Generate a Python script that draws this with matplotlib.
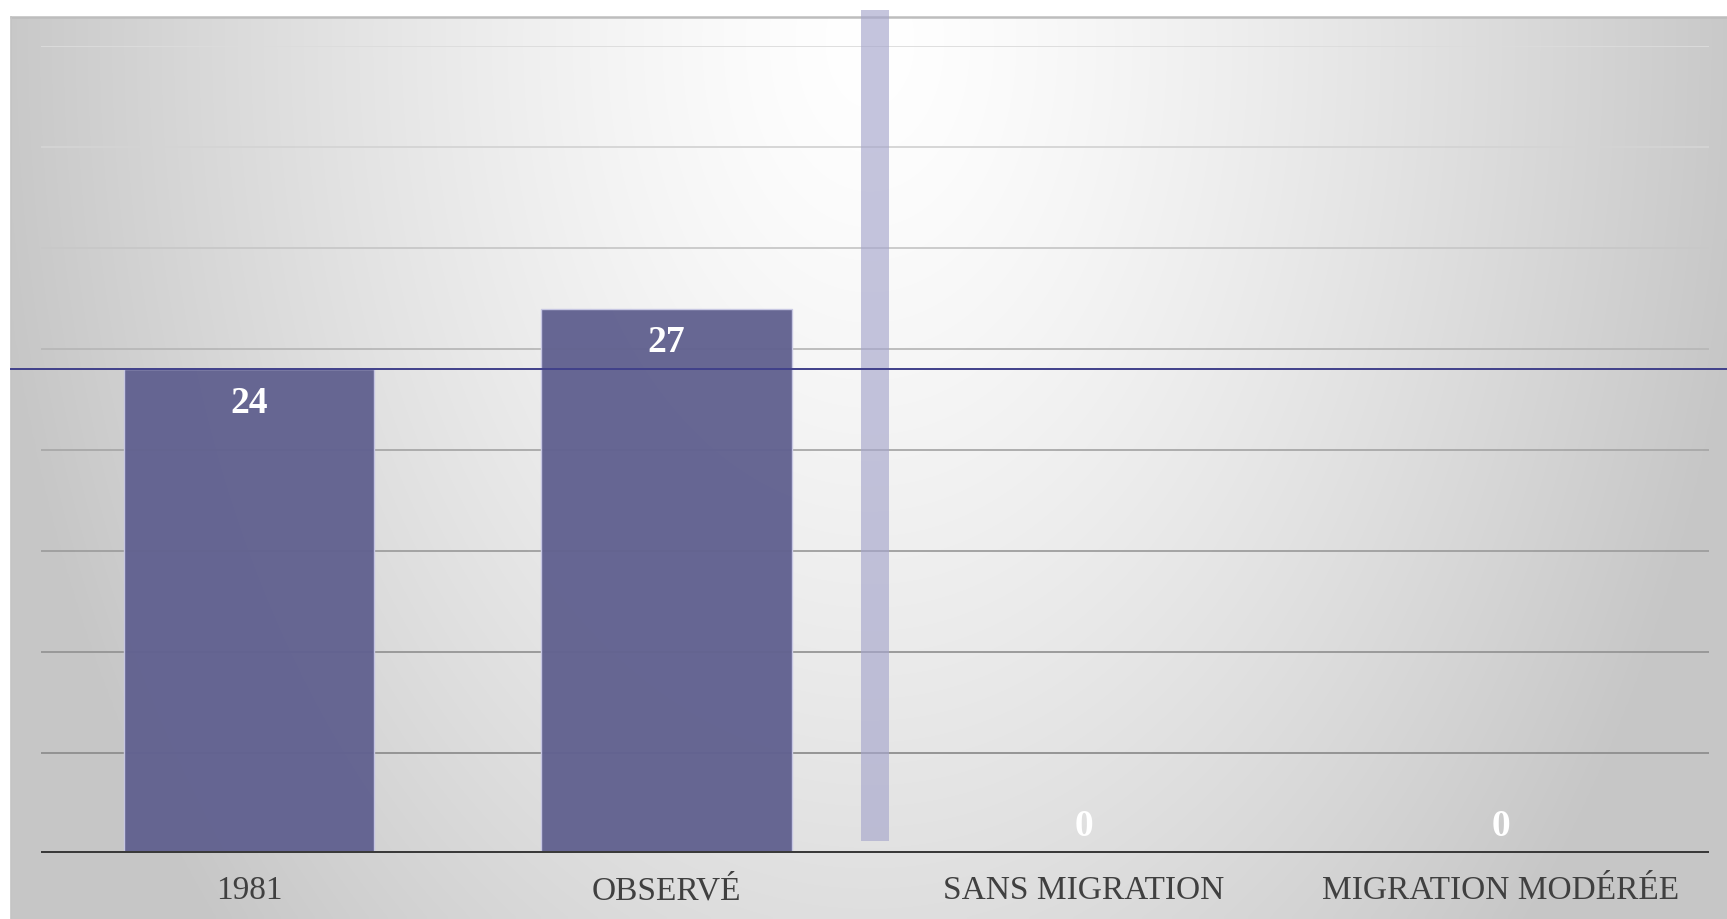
import numpy as np
import matplotlib
matplotlib.use("Agg")
import matplotlib.pyplot as plt
from matplotlib.patches import Rectangle
from matplotlib.lines import Line2D
import matplotlib.transforms as mtransforms

categories = ["1981", "OBSERVÉ", "SANS MIGRATION", "MIGRATION MODÉRÉE"]
values = [24, 27, 0, 0]
value_labels = ["24", "27", "0", "0"]
grid_ticks = [5, 10, 15, 20, 25, 30, 35, 40]
reference_level = 24

W, H = 1727, 919
fig = plt.figure(figsize=(W / 100, H / 100), dpi=100)
fig.patch.set_facecolor("white")

# background panel with radial gradient
fx0, fy0 = 11 / W, 0.0
fx1, fy1 = 1.0, 1 - 16.5 / H
bg = fig.add_axes([fx0, fy0, fx1 - fx0, fy1 - fy0], zorder=0)
nx, ny = 400, 220
xs = np.linspace(11, W, nx)
ys = np.linspace(16.5, H, ny)
X, Y = np.meshgrid(xs, ys)
r = np.sqrt(((X - 870) / 880) ** 2 + ((Y - 40) / 1320) ** 2)
r = np.clip(r, 0, 1) ** 1.35
val = 1.0 - (1.0 - 0.78) * r
img = np.dstack([val, val, val])
bg.imshow(img, aspect="auto", extent=[0, 1, 0, 1], origin="upper", interpolation="bilinear")
bg.set_xlim(0, 1)
bg.set_ylim(0, 1)
bg.axis("off")
bg.add_line(Line2D([0, 1], [1, 1], color="#bdbdbd", lw=1.8, transform=bg.transAxes, clip_on=False))
bg.add_line(Line2D([0, 0], [0, 1], color="#c4c4c4", lw=1.2, transform=bg.transAxes, clip_on=False))

ax_bottom_px, ax_top_px = 853.4, 46.3
ax = fig.add_axes([40.75 / W, 1 - ax_bottom_px / H, (1709.3 - 40.75) / W, (ax_bottom_px - ax_top_px) / H], zorder=1)
ax.patch.set_alpha(0)
x = np.arange(len(categories))
ax.set_xlim(-0.5, len(categories) - 0.5)
ax.set_ylim(0, 40)

# gridlines
gcols = ["#8e8e8e", "#959595", "#9e9e9e", "#a8a8a8", "#b8b8b8", "#c8c8c8", "#d4d4d4", "#dcdcdc"]
for t, c in zip(grid_ticks, gcols):
    ax.axhline(t, color=c, lw=1.3, zorder=1)

bars = ax.bar(x, values, width=0.6, color="#626290", edgecolor="#c8c8e4", linewidth=1.0, zorder=2, alpha=0.97)

# baseline
ax.axhline(0, color="#3a3a3a", lw=3.6, zorder=4)

# translucent separator bar
ax.add_patch(Rectangle((1.5 - 0.0343, 0.6), 0.0686, 41.2, facecolor="#a6a6cc", alpha=0.65,
                       edgecolor="none", clip_on=False, zorder=3))

# reference line across whole panel
trans = mtransforms.blended_transform_factory(fig.transFigure, ax.transData)
ax.add_line(Line2D([fx0, 1.0], [reference_level, reference_level], color="#40408a", lw=1.4,
                   transform=trans, clip_on=False, zorder=5))

# value labels
for xi, v, lab in zip(x, values, value_labels):
    off = -24.5 if v > 0 else 19.5
    ax.annotate(lab, (xi, v), xytext=(0, off), textcoords="offset points", ha="center", va="center",
                color="white", fontsize=27, fontweight="bold", family="Liberation Serif", zorder=6)

ax.set_xticks(x)
ax.set_xticklabels(categories, fontsize=24, family="Liberation Serif", color="#404040")
ax.tick_params(axis="x", length=0, pad=16)
ax.set_yticks([])
for s in ax.spines.values():
    s.set_visible(False)

fig.savefig("out.png", dpi=100)
